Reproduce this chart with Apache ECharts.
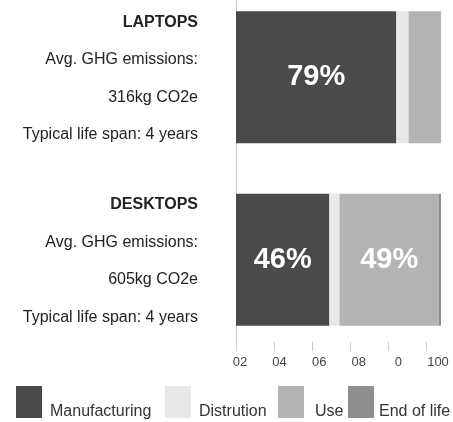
<!DOCTYPE html>
<html>
<head>
<meta charset="utf-8">
<script src="https://cdn.jsdelivr.net/npm/echarts@6/dist/echarts.min.js"></script>
<style>
  html, body { margin: 0; padding: 0; background: #fff; }
  #chart { width: 453px; height: 422px; }
</style>
</head>
<body>
<div id="chart"></div>
<script>
// 数据
const categories = ['LAPTOPS', 'DESKTOPS'];
const emissions = ['316kg CO2e', '605kg CO2e'];
const lifeSpans = ['4 years', '4 years'];
const manufacturing = [79, 46];
const distribution = [6, 5];
const use = [16, 49];
const endOfLife = [0, 1.5];
const tickLabels = ['02', '04', '06', '08', '0', '100'];

const FONT = '"Liberation Sans Narrow", "Liberation Sans", sans-serif';
const colors = {
    Manufacturing: '#4a4a4a',
    Distrution: '#e8e8e8',
    Use: '#b3b3b3',
    'End of life': '#8e8e8e'
};

const chart = echarts.init(document.getElementById('chart'));

function barSeries(name, data) {
    return {
        name: name,
        type: 'bar',
        stack: 'total',
        barWidth: 132,
        xAxisIndex: 0,
        yAxisIndex: 0,
        data: data,
        itemStyle: { color: colors[name] },
        label: {
            show: true,
            position: 'inside',
            color: '#fff',
            fontFamily: FONT,
            fontWeight: 'bold',
            fontSize: 29,
            formatter: (p) => (p.value > 20 ? Math.round(p.value) + '%' : '')
        },
        emphasis: { disabled: true }
    };
}

// 图例: 每项单独定位, 文字靠下
function legendAt(name, left, gap) {
    return {
        data: [name],
        left: left,
        top: 386,
        padding: 0,
        icon: 'rect',
        itemWidth: 26,
        itemHeight: 32,
        selectedMode: false,
        formatter: (n) => '{a|' + n + '}',
        textStyle: {
            rich: {
                a: {
                    fontFamily: FONT,
                    fontSize: 16,
                    color: '#333',
                    padding: [20, 0, 0, gap]
                }
            }
        }
    };
}

chart.setOption({
    animation: false,
    legend: [
        legendAt('Manufacturing', 16, 3),
        legendAt('Distrution', 165, 3),
        legendAt('Use', 278, 6),
        legendAt('End of life', 348, 0)
    ],
    grid: [
        { left: 236, right: 12, top: -14, height: 365, outerBoundsMode: 'none' },
        { left: 236, width: 190, top: 0, height: 351, outerBoundsMode: 'none' },
        { left: 240, width: 198, top: 0, height: 351, outerBoundsMode: 'none' }
    ],
    xAxis: [
        { type: 'value', gridIndex: 0, min: 0, max: 101, show: false },
        {
            type: 'category',
            gridIndex: 1,
            data: tickLabels,
            boundaryGap: false,
            axisLine: { show: false },
            axisTick: { show: true, inside: true, length: 9, lineStyle: { color: '#ccc' } },
            axisLabel: { show: false }
        },
        {
            type: 'category',
            gridIndex: 2,
            data: tickLabels,
            boundaryGap: false,
            axisLine: { show: false },
            axisTick: { show: false },
            axisLabel: {
                margin: 5,
                interval: 0,
                fontFamily: FONT,
                fontSize: 13,
                color: '#444'
            }
        }
    ],
    yAxis: [
        {
            type: 'category',
            gridIndex: 0,
            data: categories,
            inverse: true,
            axisLine: { show: true, lineStyle: { color: '#ccc' } },
            axisTick: { show: false },
            axisLabel: {
                margin: 38,
                padding: [3, 0, 0, 0],
                formatter: (v, i) =>
                    '{t|' + v + '}\n{n|Avg. GHG emissions:}\n{n|' + emissions[i] +
                    '}\n{n|Typical life span: ' + lifeSpans[i] + '}',
                rich: {
                    t: { fontFamily: FONT, fontWeight: 'bold', fontSize: 16, color: '#222', lineHeight: 37.5, align: 'right' },
                    n: { fontFamily: FONT, fontSize: 16, color: '#222', lineHeight: 37.5, align: 'right' }
                }
            }
        },
        { type: 'value', gridIndex: 1, show: false },
        { type: 'value', gridIndex: 2, show: false }
    ],
    series: [
        barSeries('Manufacturing', manufacturing),
        barSeries('Distrution', distribution),
        barSeries('Use', use),
        barSeries('End of life', endOfLife)
    ]
});
</script>
</body>
</html>
